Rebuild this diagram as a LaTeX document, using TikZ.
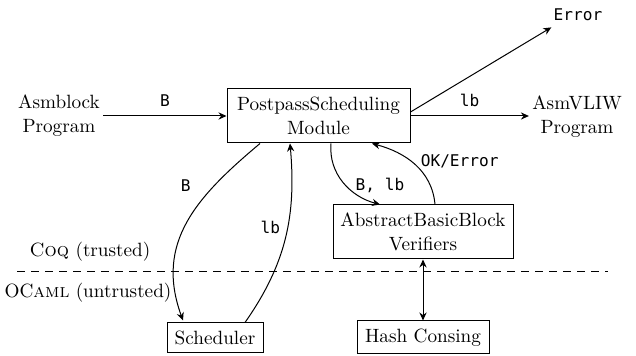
\documentclass[tikz,border=0pt]{standalone}
\usepackage{fontspec}
\setmonofont{DejaVu Sans Mono}[Scale=0.84]
\usetikzlibrary{arrows.meta,calc}
\begin{document}
\begin{tikzpicture}[x=0.5pt,y=-0.5pt,
  every node/.style={font=\fontsize{9.6}{12}\selectfont, align=center, inner sep=1.5pt},
  box/.style={draw, line width=0.5pt, inner sep=0pt},
  conn/.style={line width=0.5pt, -{Stealth[length=4pt,width=3.6pt,inset=1.3pt]}},
  lbl/.style={font=\fontsize{9.6}{12}\selectfont\ttfamily}]
\useasboundingbox (0,0) rectangle (636,356);
% nodes
\node (asm) at (59,116) {Asmblock\\Program};
\node[box, minimum width=91.5pt, minimum height=27pt] (pp) at (318.5,116) {PostpassScheduling\\Module};
\node (vlw) at (577,117) {AsmVLIW\\Program};
\node[lbl, inner sep=1pt] (err) at (578,15) {Error};
\node[box, minimum width=90pt, minimum height=27pt] (abb) at (423,232) {AbstractBasicBlock\\Verifiers};
\node[box, minimum width=48pt, minimum height=15pt] (sch) at (215,338) {Scheduler};
\node[box, minimum width=66pt, minimum height=16.5pt] (hc) at (423,337.5) {Hash Consing};
\node (coq) at (90,252) {\textsc{Coq} (trusted)};
\node (ocaml) at (88,293) {OC\textsc{aml} (untrusted)};
\coordinate (dl) at (17,272);
\coordinate (dr) at (608,272);
\draw[dashed, line width=0.5pt, dash pattern=on 4pt off 3pt] (dl) -- (dr);
% connectors
\draw[conn] (asm) -- node[lbl, above=3pt] {B} (pp);
\draw[conn] (pp) -- node[lbl, above=3pt] {lb} (vlw.west |- pp.east);
\draw[conn] ($(pp.east)+(0,-4)$) -- ($(err.south west)+(0,4)$);
\draw[conn] ($(pp.south)+(-58.5,0)$) to[out=-140,in=110,looseness=1.1] node[lbl, pos=0.27, left=10pt] {B} ($(sch.north)+(-32,-2)$);
\draw[conn] ($(sch.north)+(30,0)$) to[out=55,in=-85] node[lbl, pos=0.56, left=2pt] {lb} ($(pp.south)+(-28.5,0)$);
\draw[conn] ($(pp.south)+(12.5,0)$) to[out=-95,in=165] node[lbl, pos=0.55, right=3pt] {B, lb} ($(abb.north)+(-43,0)$);
\draw[conn] ($(abb.north)+(12,0)$) to[out=95,in=-15] node[lbl, pos=0.55, right=3pt] {OK/Error} ($(pp.south)+(53.5,0)$);
\draw[line width=0.5pt, {Stealth[length=4pt,width=3.6pt,inset=1.3pt]}-{Stealth[length=4pt,width=3.6pt,inset=1.3pt]}] (abb) -- (hc);
\end{tikzpicture}
\end{document}
